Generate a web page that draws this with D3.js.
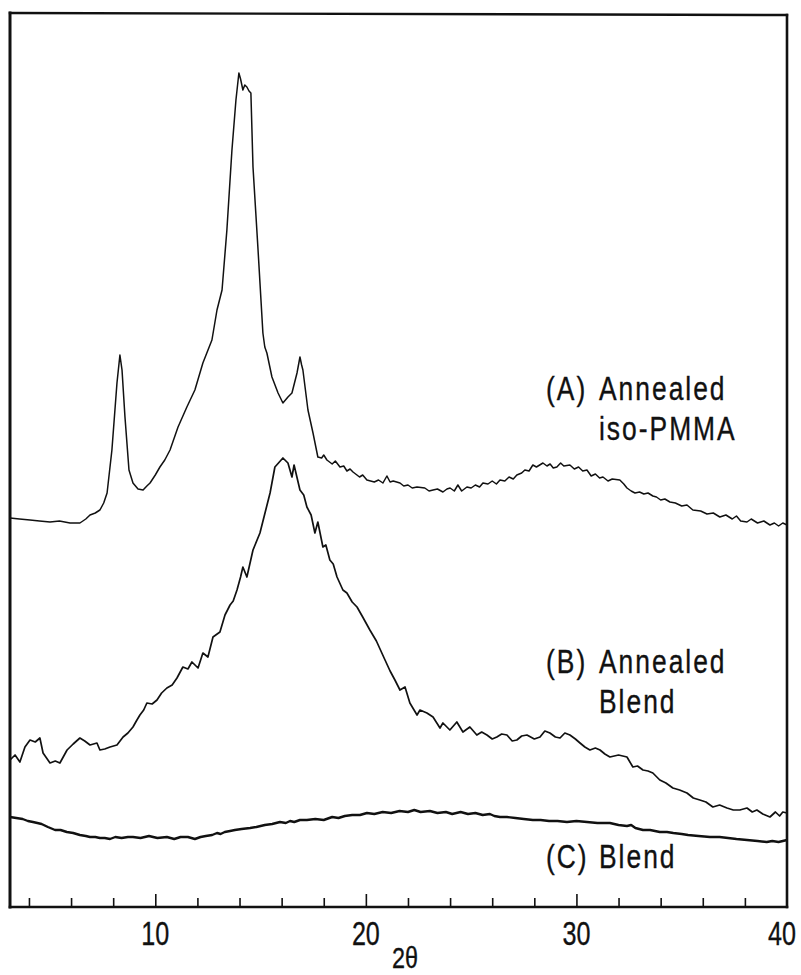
<!DOCTYPE html>
<html>
<head>
<meta charset="utf-8">
<script src="https://cdn.jsdelivr.net/npm/d3@7"></script>
<style>
  body { margin: 0; background: #fff; }
  text { font-family: "Liberation Sans", Arial, sans-serif; fill: #111; stroke: #111; stroke-width: 0.35; }
</style>
</head>
<body>
<div class="canva"></div>
<script>
// 2-theta tick values
const minorTicks = [4, 6, 8, 12, 14, 16, 18, 22, 24, 26, 28, 32, 34, 36, 38];
const majorTicks = [10, 20, 30, 40];

// (A) annealed iso-PMMA : [2theta, intensity]
const curveA = [
  [3.10,389],[3.55,388],[4.05,387],[4.50,386],[5.00,385],[5.45,386],[5.95,384],[6.42,384],
  [6.70,388],[6.90,392],[7.15,394],[7.37,397],[7.55,404],[7.71,414],[7.94,457],[8.18,524],
  [8.32,552],[8.42,537],[8.56,490],[8.75,437],[8.94,424],[9.18,418],[9.42,417],[9.60,421],
  [9.75,424],[10.00,432],[10.22,440],[10.45,447],[10.70,457],[11.08,480],[11.50,500],
  [11.88,517],[12.26,544],[12.69,567],[12.93,597],[13.17,617],[13.40,677],[13.64,757],
  [13.83,807],[13.97,834],[14.05,828],[14.16,817],[14.25,822],[14.35,820],[14.45,816],
  [14.54,814],[14.64,740],[14.88,657],[15.11,574],[15.20,560],[15.30,554],[15.54,530],
  [15.83,514],[16.06,504],[16.30,510],[16.49,514],[16.73,534],[16.87,550],[16.95,542],
  [17.01,537],[17.25,497],[17.49,474],[17.72,450],[17.90,449],[18.00,452],[18.15,447],
  [18.40,443],[18.55,446],[18.77,440],[18.95,441],[19.10,436],[19.25,438],[19.39,435],
  [19.70,430],[19.85,432],[20.05,427],[20.40,425],[20.60,427],[20.81,424],[21.00,431],
  [21.15,425],[21.30,426],[21.62,424],[21.80,421],[22.00,422],[22.20,419],[22.43,420],
  [22.80,419],[23.00,416],[23.19,417],[23.40,418],[23.66,415],[23.85,418],[24.00,419],
  [24.20,416],[24.37,422],[24.55,416],[24.80,420],[25.00,419],[25.20,422],[25.40,420],
  [25.56,424],[25.80,423],[26.00,426],[26.20,423],[26.37,427],[26.60,426],[26.80,430],
  [27.00,428],[27.17,432],[27.40,434],[27.55,437],[27.75,436],[27.93,442],[28.10,440],
  [28.41,444],[28.60,441],[28.75,443],[28.90,439],[29.07,440],[29.25,444],[29.40,441],
  [29.69,442],[29.90,438],[30.10,440],[30.30,436],[30.50,437],[30.70,431],[30.90,433],
  [31.10,429],[31.26,430],[31.50,426],[31.70,428],[32.06,427],[32.25,423],[32.40,419],
  [32.60,416],[32.78,414],[33.00,415],[33.20,413],[33.40,414],[33.63,411],[33.80,410],
  [34.00,407],[34.20,408],[34.44,405],[34.70,404],[35.00,401],[35.25,402],[35.53,397],
  [35.90,396],[36.20,393],[36.50,394],[36.81,390],[37.10,392],[37.40,388],[37.60,391],
  [37.80,386],[38.10,385],[38.30,388],[38.60,384],[38.90,386],[39.19,382],[39.40,384],
  [39.60,381],[39.80,384],[40.00,382]
];

// (B) annealed blend
const curveB = [
  [3.10,147],[3.34,152],[3.57,145],[3.81,160],[4.05,167],[4.30,165],[4.52,169],[4.67,154],
  [5.00,144],[5.25,146],[5.47,144],[5.81,157],[6.10,163],[6.42,169],[6.65,166],[6.90,162],
  [7.23,164],[7.37,157],[7.60,158],[7.85,160],[8.18,162],[8.47,170],[8.70,174],[8.94,180],
  [9.10,186],[9.27,192],[9.45,197],[9.60,204],[9.85,203],[10.08,207],[10.30,214],[10.55,219],
  [10.80,222],[11.03,229],[11.31,240],[11.55,238],[11.74,245],[12.03,239],[12.26,254],
  [12.50,250],[12.74,270],[13.07,275],[13.31,292],[13.55,302],[13.70,306],[13.88,317],
  [14.05,330],[14.16,340],[14.35,330],[14.64,357],[14.97,374],[15.21,394],[15.45,414],
  [15.68,440],[15.85,444],[16.06,449],[16.30,444],[16.49,430],[16.59,442],[16.87,417],
  [17.05,412],[17.20,400],[17.40,392],[17.58,374],[17.72,385],[17.96,360],[18.10,362],
  [18.29,347],[18.45,343],[18.63,330],[18.91,317],[19.10,314],[19.35,305],[19.58,300],
  [19.85,290],[20.19,277],[20.50,266],[20.91,247],[21.15,236],[21.38,227],[21.62,217],
  [21.86,220],[22.09,204],[22.43,192],[22.57,197],[22.90,194],[23.19,190],[23.52,179],
  [23.66,184],[23.99,177],[24.32,185],[24.61,175],[24.94,180],[25.27,172],[25.50,175],
  [25.75,172],[26.00,168],[26.22,170],[26.45,173],[26.70,172],[26.95,166],[27.17,167],
  [27.40,171],[27.65,172],[28.00,168],[28.27,170],[28.50,176],[28.74,174],[29.00,170],
  [29.22,169],[29.45,174],[29.69,172],[29.95,168],[30.17,164],[30.40,160],[30.64,157],
  [30.90,159],[31.12,157],[31.35,153],[31.59,150],[32.00,152],[32.40,150],[32.68,140],
  [32.90,141],[33.16,137],[33.40,136],[33.63,134],[33.96,127],[34.25,124],[34.58,119],
  [34.90,117],[35.25,114],[35.55,109],[35.86,107],[36.15,105],[36.48,100],[36.80,102],
  [37.15,99],[37.45,97],[37.76,97],[38.10,99],[38.35,95],[38.57,97],[38.85,93],[39.19,90],
  [39.45,95],[39.65,91],[39.80,95],[40.00,94]
];

// (C) blend
const curveC = [
  [3.10,90],[3.40,89],[3.70,88],[3.95,86],[4.19,85],[4.40,84],[4.60,83],[4.90,80],[5.24,77],
  [5.50,77],[5.80,75],[6.10,74],[6.42,72],[6.70,71],[6.90,70],[7.15,70],[7.37,69],[7.60,69],
  [7.85,68],[8.10,70],[8.40,69],[8.70,70],[8.94,70],[9.30,69],[9.70,71],[10.10,69],
  [10.55,70],[10.90,68],[11.20,70],[11.55,70],[11.88,68],[12.15,70],[12.40,71],[12.70,72],
  [12.93,74],[13.10,73],[13.30,75],[13.55,76],[13.78,77],[14.10,78],[14.50,79],[14.80,80],
  [15.20,82],[15.55,83],[15.92,85],[16.20,84],[16.40,86],[16.60,85],[16.87,87],[17.20,87],
  [17.60,88],[18.00,87],[18.40,90],[18.70,89],[19.00,91],[19.35,92],[19.72,92],[20.05,94],
  [20.40,93],[20.80,95],[21.20,94],[21.60,96],[22.00,95],[22.30,97],[22.60,95],[23.04,96],
  [23.40,94],[23.80,95],[24.10,93],[24.50,95],[24.85,93],[25.20,94],[25.55,92],[25.89,93],
  [26.10,91],[26.37,90],[26.70,90],[27.10,89],[27.50,88],[27.93,87],[28.30,87],[28.70,86],
  [29.10,86],[29.55,85],[30.00,86],[30.50,85],[31.00,84],[31.59,84],[32.00,82],[32.40,81],
  [32.60,82],[32.80,79],[33.16,77],[33.50,77],[33.96,75],[34.30,75],[34.60,74],[35.00,73],
  [35.30,72],[35.80,71],[36.34,70],[36.80,70],[37.20,69],[37.60,68],[38.10,67],[38.60,66],
  [39.04,65],[39.30,66],[39.60,65],[40.00,67]
];

const labels = [
  { tag: "(A)", lines: ["Annealed", "iso-PMMA"] },
  { tag: "(B)", lines: ["Annealed", "Blend"] },
  { tag: "(C)", lines: ["Blend"] }
];

const W = 801, H = 975;
const pLeft = 10, pRight = 787, pTop = 13, pBottom = 907;

const svg = d3.select('.canva').append('svg')
  .attr('width', W)
  .attr('height', H);

const x = d3.scaleLinear().domain([3.1, 40]).range([pLeft, pRight]);
const y = d3.scaleLinear().domain([0, pBottom - pTop]).range([pBottom, pTop]);

const line = d3.line()
  .x(d => x(d[0]))
  .y(d => y(d[1]));

// curves
[[curveA, 1.5], [curveB, 1.7], [curveC, 2.4]].forEach(([data, w]) => {
  svg.append('path')
    .datum(data)
    .attr('d', line)
    .attr('fill', 'none')
    .attr('stroke', '#111')
    .attr('stroke-width', w)
    .attr('stroke-linejoin', 'round');
});

// ticks pointing inward
svg.append('g')
  .attr('transform', `translate(0,${pBottom})`)
  .call(d3.axisBottom(x).tickValues(minorTicks).tickSize(-9).tickFormat(''))
  .call(g => g.select('.domain').remove())
  .call(g => g.selectAll('line').attr('stroke', '#111').attr('stroke-width', 1.6));

svg.append('g')
  .attr('transform', `translate(0,${pBottom})`)
  .call(d3.axisBottom(x).tickValues(majorTicks.slice(0, 3)).tickSize(-13).tickFormat(''))
  .call(g => g.select('.domain').remove())
  .call(g => g.selectAll('line').attr('stroke', '#111').attr('stroke-width', 1.6));

// tick labels (narrow digits); last one sits just inside the page edge
svg.selectAll('.tlabel')
  .data(majorTicks)
  .join('text')
  .attr('class', 'tlabel')
  .attr('transform', d => `translate(${x(d) - (d === 40 ? 5 : 0)},945) scale(0.74,1)`)
  .attr('text-anchor', 'middle')
  .attr('font-size', 34)
  .text(d => d);

svg.append('text')
  .attr('transform', 'translate(405,968) scale(0.78,1)')
  .attr('text-anchor', 'middle')
  .attr('font-size', 30)
  .text('2θ');

// frame
const frame = [
  [pLeft, pTop, pLeft, pBottom, 3],
  [pLeft, pBottom, pRight, pBottom, 2.6],
  [pLeft, pTop, pRight, pTop + 2, 2.4],
  [pRight, pTop + 2, pRight, pBottom, 2.6]
];
frame.forEach(f => {
  svg.append('line')
    .attr('x1', f[0]).attr('y1', f[1])
    .attr('x2', f[2]).attr('y2', f[3])
    .attr('stroke', '#111')
    .attr('stroke-width', f[4])
    .attr('stroke-linecap', 'square');
});

// curve labels
const labelY = [400, 673, 868];
labels.forEach((l, i) => {
  svg.append('text')
    .attr('transform', `translate(546,${labelY[i]}) scale(0.8,1)`)
    .attr('font-size', 33)
    .attr('letter-spacing', 2.5)
    .text(l.tag);
  l.lines.forEach((s, j) => {
    svg.append('text')
      .attr('transform', `translate(599,${labelY[i] + j * 40}) scale(0.8,1)`)
      .attr('font-size', 33)
      .attr('letter-spacing', 2.5)
      .text(s);
  });
});
</script>
</body>
</html>
